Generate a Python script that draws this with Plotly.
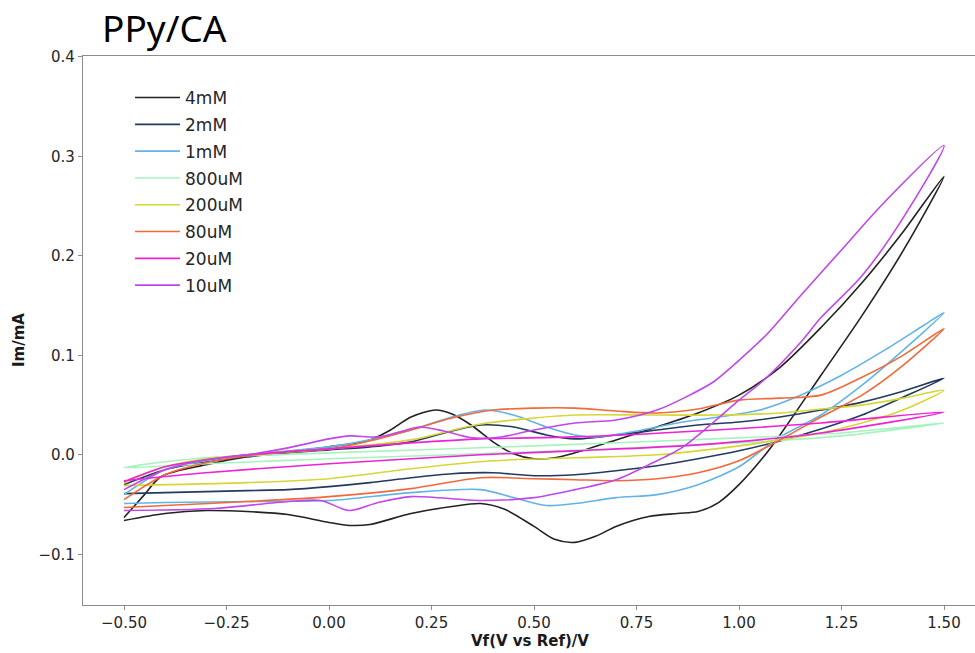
import plotly.graph_objects as go

# ---- data (V vs Ref, current mA); each CV loop = forward branch + return branch ----
labels = ["4mM", "2mM", "1mM", "800uM", "200uM", "80uM", "20uM", "10uM"]
colors = ["#222222", "#233a5e", "#62b4e6", "#a6f3bf", "#d6d636", "#f2693a", "#ee22d6", "#c047ea"]

v_4mM_f = [-0.50, -0.45, -0.41, -0.30, -0.20, -0.10, 0.00, 0.10, 0.15, 0.20, 0.26, 0.30, 0.35, 0.40, 0.45, 0.50, 0.55, 0.60, 0.70, 0.80, 0.90, 1.00, 1.10, 1.20, 1.30, 1.40, 1.50]
i_4mM_f = [-0.063, -0.040, -0.022, -0.010, -0.002, 0.003, 0.008, 0.015, 0.025, 0.038, 0.045, 0.041, 0.029, 0.013, 0.001, -0.004, -0.003, 0.002, 0.015, 0.028, 0.042, 0.060, 0.088, 0.128, 0.173, 0.224, 0.280]
v_4mM_r = [1.50, 1.40, 1.30, 1.20, 1.10, 1.06, 1.00, 0.95, 0.90, 0.85, 0.78, 0.70, 0.65, 0.60, 0.55, 0.50, 0.43, 0.37, 0.30, 0.20, 0.10, 0.05, 0.00, -0.10, -0.20, -0.30, -0.40, -0.50]
i_4mM_r = [0.280, 0.205, 0.140, 0.080, 0.020, -0.002, -0.030, -0.048, -0.057, -0.059, -0.062, -0.072, -0.082, -0.088, -0.085, -0.072, -0.055, -0.049, -0.052, -0.059, -0.070, -0.071, -0.068, -0.060, -0.057, -0.056, -0.059, -0.066]

v_2mM_f = [-0.50, -0.40, -0.30, -0.20, -0.10, 0.00, 0.10, 0.20, 0.30, 0.37, 0.45, 0.53, 0.60, 0.70, 0.80, 0.90, 1.00, 1.10, 1.20, 1.30, 1.40, 1.50]
i_2mM_f = [-0.030, -0.015, -0.007, -0.002, 0.002, 0.005, 0.008, 0.013, 0.024, 0.030, 0.028, 0.020, 0.016, 0.020, 0.025, 0.030, 0.033, 0.038, 0.045, 0.053, 0.064, 0.077]
v_2mM_r = [1.50, 1.40, 1.30, 1.20, 1.10, 1.00, 0.90, 0.80, 0.70, 0.60, 0.50, 0.40, 0.30, 0.20, 0.10, 0.00, -0.10, -0.20, -0.30, -0.40, -0.50]
i_2mM_r = [0.077, 0.058, 0.040, 0.026, 0.014, 0.004, -0.004, -0.011, -0.016, -0.020, -0.021, -0.018, -0.019, -0.023, -0.028, -0.032, -0.035, -0.036, -0.037, -0.038, -0.039]

v_1mM_f = [-0.50, -0.40, -0.30, -0.20, -0.10, 0.00, 0.10, 0.20, 0.30, 0.38, 0.45, 0.53, 0.60, 0.65, 0.75, 0.85, 0.95, 1.05, 1.15, 1.25, 1.35, 1.45, 1.50]
i_1mM_f = [-0.040, -0.015, -0.006, 0.000, 0.004, 0.008, 0.015, 0.025, 0.038, 0.045, 0.040, 0.028, 0.020, 0.018, 0.024, 0.032, 0.038, 0.045, 0.060, 0.080, 0.104, 0.130, 0.143]
v_1mM_r = [1.50, 1.40, 1.30, 1.20, 1.10, 1.05, 1.00, 0.90, 0.80, 0.70, 0.60, 0.53, 0.45, 0.37, 0.20, 0.00, -0.20, -0.40, -0.50]
i_1mM_r = [0.143, 0.105, 0.070, 0.040, 0.018, 0.003, -0.012, -0.030, -0.040, -0.043, -0.049, -0.051, -0.043, -0.035, -0.038, -0.046, -0.047, -0.048, -0.049]

v_800uM_f = [-0.50, -0.40, -0.30, 0.00, 0.50, 1.00, 1.25, 1.50]
i_800uM_f = [-0.013, -0.007, -0.003, 0.002, 0.009, 0.017, 0.022, 0.032]
v_800uM_r = [1.50, 1.25, 1.00, 0.50, 0.00, -0.30, -0.50]
i_800uM_r = [0.030, 0.019, 0.012, 0.003, -0.004, -0.009, -0.013]

v_200uM_f = [-0.50, -0.40, -0.30, -0.20, 0.00, 0.20, 0.37, 0.50, 0.60, 0.80, 0.95, 1.10, 1.20, 1.30, 1.40, 1.50]
i_200uM_f = [-0.028, -0.012, -0.004, 0.000, 0.006, 0.015, 0.031, 0.037, 0.040, 0.040, 0.040, 0.042, 0.046, 0.050, 0.057, 0.065]
v_200uM_r = [1.50, 1.40, 1.30, 1.20, 1.10, 1.00, 0.80, 0.60, 0.40, 0.20, 0.00, -0.20, -0.50]
i_200uM_r = [0.062, 0.045, 0.032, 0.022, 0.015, 0.009, 0.000, -0.003, -0.006, -0.014, -0.024, -0.028, -0.031]

v_80uM_f = [-0.50, -0.40, -0.30, -0.20, -0.10, 0.00, 0.12, 0.20, 0.30, 0.40, 0.50, 0.60, 0.70, 0.80, 0.90, 1.00, 1.10, 1.20, 1.30, 1.40, 1.50]
i_80uM_f = [-0.045, -0.020, -0.008, -0.001, 0.003, 0.006, 0.016, 0.025, 0.037, 0.045, 0.047, 0.047, 0.044, 0.042, 0.046, 0.055, 0.057, 0.060, 0.078, 0.100, 0.127]
v_80uM_r = [1.50, 1.40, 1.30, 1.20, 1.10, 1.00, 0.90, 0.80, 0.70, 0.60, 0.50, 0.37, 0.20, 0.00, -0.20, -0.40, -0.50]
i_80uM_r = [0.127, 0.090, 0.060, 0.038, 0.015, -0.006, -0.018, -0.024, -0.026, -0.025, -0.024, -0.023, -0.034, -0.042, -0.047, -0.051, -0.053]

v_20uM_f = [-0.50, -0.40, -0.30, -0.20, 0.00, 0.20, 0.37, 0.60, 0.90, 1.20, 1.50]
i_20uM_f = [-0.027, -0.012, -0.005, 0.000, 0.006, 0.012, 0.016, 0.018, 0.024, 0.032, 0.043]
v_20uM_r = [1.50, 1.20, 0.90, 0.60, 0.37, 0.00, -0.30, -0.50]
i_20uM_r = [0.043, 0.022, 0.010, 0.004, 0.000, -0.009, -0.018, -0.026]

v_10uM_f = [-0.50, -0.40, -0.30, -0.20, -0.10, 0.00, 0.05, 0.12, 0.18, 0.22, 0.28, 0.35, 0.42, 0.50, 0.60, 0.70, 0.80, 0.87, 0.94, 1.00, 1.07, 1.15, 1.25, 1.35, 1.50]
i_10uM_f = [-0.035, -0.015, -0.005, 0.000, 0.007, 0.016, 0.019, 0.018, 0.024, 0.028, 0.024, 0.017, 0.018, 0.025, 0.032, 0.035, 0.045, 0.058, 0.074, 0.095, 0.122, 0.160, 0.206, 0.252, 0.311]
v_10uM_r = [1.50, 1.40, 1.30, 1.20, 1.15, 1.06, 1.00, 0.93, 0.86, 0.78, 0.70, 0.60, 0.50, 0.37, 0.20, 0.12, 0.05, -0.02, -0.10, -0.28, -0.50]
i_10uM_r = [0.311, 0.238, 0.180, 0.138, 0.113, 0.075, 0.055, 0.030, 0.007, -0.010, -0.025, -0.035, -0.043, -0.046, -0.042, -0.048, -0.056, -0.046, -0.047, -0.054, -0.056]

series = [
    (v_4mM_f, i_4mM_f, v_4mM_r, i_4mM_r),
    (v_2mM_f, i_2mM_f, v_2mM_r, i_2mM_r),
    (v_1mM_f, i_1mM_f, v_1mM_r, i_1mM_r),
    (v_800uM_f, i_800uM_f, v_800uM_r, i_800uM_r),
    (v_200uM_f, i_200uM_f, v_200uM_r, i_200uM_r),
    (v_80uM_f, i_80uM_f, v_80uM_r, i_80uM_r),
    (v_20uM_f, i_20uM_f, v_20uM_r, i_20uM_r),
    (v_10uM_f, i_10uM_f, v_10uM_r, i_10uM_r),
]

x_ticks = [-0.5, -0.25, 0.0, 0.25, 0.5, 0.75, 1.0, 1.25, 1.5]
y_ticks = [-0.1, 0.0, 0.1, 0.2, 0.3, 0.4]

fig = go.Figure()
for lab, col, (vf, i_f, vr, i_r) in zip(labels, colors, series):
    fig.add_trace(go.Scatter(
        x=list(vf) + list(vr)[1:], y=list(i_f) + list(i_r)[1:],
        mode="lines", name=lab, legendgroup=lab,
        line=dict(color=col, width=1.6, shape="spline", smoothing=0.8),
    ))

font_ticks = dict(family="DejaVu Sans", size=15, color="#262626")
title_font = dict(family="DejaVu Sans", size=15, color="#1a1a1a")
PL, PT, PW, PH = 83, 56, 892, 549
fig.update_layout(
    width=975, height=653,
    margin=dict(l=PL, r=0, t=PT, b=653 - PT - PH, autoexpand=False),
    paper_bgcolor="white", plot_bgcolor="white",
    showlegend=True,
    legend=dict(x=(130 - PL) / PW, y=1 - (80 - PT) / PH, xanchor="left", yanchor="top",
                font=dict(family="DejaVu Sans", size=17, color="#262626"),
                bgcolor="rgba(0,0,0,0)", tracegroupgap=1.7, traceorder="grouped",
                itemwidth=45),
    xaxis=dict(range=[-0.6, 1.5756], tickvals=x_ticks, tickformat=".2f", automargin=False,
               showgrid=False, zeroline=False, showline=True, linecolor="#8c8c8c",
               linewidth=1.3, mirror=True, ticks="outside", ticklen=4, tickcolor="#8c8c8c",
               tickfont=font_ticks),
    yaxis=dict(range=[-0.151, 0.401], tickvals=y_ticks, tickformat=".1f", automargin=False,
               showgrid=False, zeroline=False, showline=True, linecolor="#8c8c8c",
               linewidth=1.3, ticks="outside", ticklen=4, tickcolor="#8c8c8c",
               tickfont=font_ticks),
)
fig.add_annotation(text="<b>Vf(V vs Ref)/V</b>", xref="paper", yref="paper",
                   x=(530 - PL) / PW, y=-(641 - PT - PH) / PH, xanchor="center", yanchor="middle",
                   showarrow=False, font=title_font)
fig.add_annotation(text="<b>Im/mA</b>", xref="paper", yref="paper", textangle=-90,
                   x=-(PL - 19) / PW, y=1 - (340 - PT) / PH, xanchor="center", yanchor="middle",
                   showarrow=False, font=title_font)
fig.add_annotation(text="PPy/CA", xref="paper", yref="paper", x=(100 - PL) / PW, y=1.0,
                   xanchor="left", yanchor="bottom", yshift=1, showarrow=False,
                   font=dict(family="Noto Sans", size=37, color="#000000"))

fig.write_html("out.html", config={"displayModeBar": False},
               post_script="document.body.style.margin='0';document.body.style.overflow='hidden';")
